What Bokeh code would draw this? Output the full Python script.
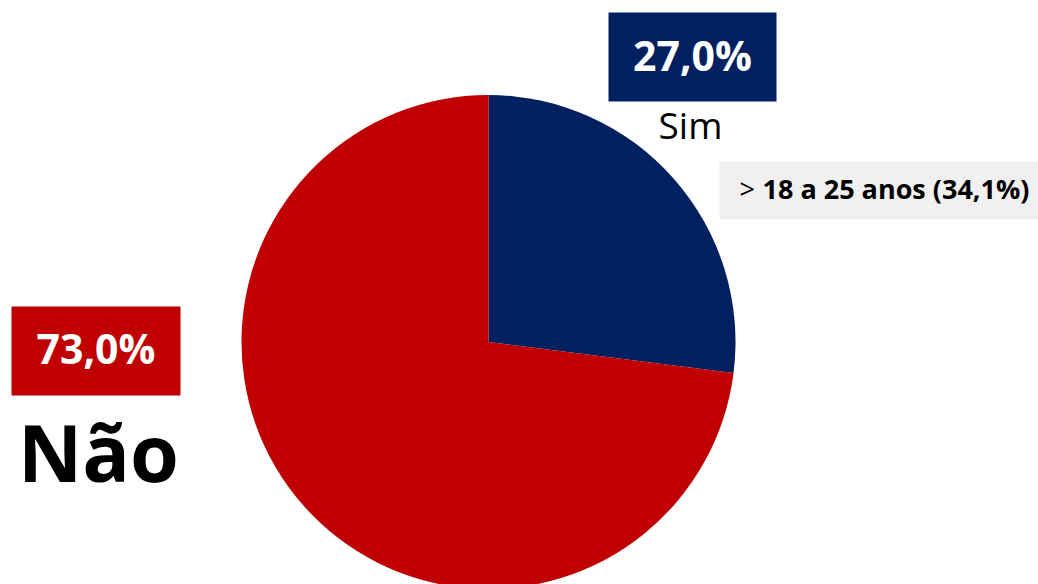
import numpy as np
from bokeh.plotting import figure
from bokeh.models import Range1d, Label
from bokeh.embed import file_html
from bokeh.resources import INLINE

# ---- data ----
categories = ["Sim", "Não"]
values = [27.0, 73.0]
pct_labels = ["27,0%", "73,0%"]
colors = ["#002060", "#C00000"]
note_prefix = ">"
note_text = "18 a 25 anos (34,1%)"

W, H = 1038, 584
FONT = "Open Sans"

p = figure(width=W, height=H, output_backend="svg", toolbar_location=None,
           x_range=Range1d(0, W), y_range=Range1d(0, H),
           min_border=0)
p.axis.visible = False
p.grid.visible = False
p.outline_line_color = None
p.background_fill_color = "white"
p.border_fill_color = "white"


def Y(sy):
    # screen y (pixels from top) -> data y
    return H - sy


# ---- pie ----
vals = np.array(values, dtype=float)
frac = vals / vals.sum()
cum = np.concatenate([[0.0], np.cumsum(frac)])
ends = np.pi / 2 - 2 * np.pi * cum[:-1]
starts = np.pi / 2 - 2 * np.pi * cum[1:]
cx, cy, r = 488, Y(341.5), 247
p.wedge(x=cx, y=cy, radius=r, start_angle=starts, end_angle=ends,
        fill_color=colors, line_color=None)

# ---- label boxes ----
p.quad(left=[608, 11], right=[776, 180], top=[Y(12), Y(306)], bottom=[Y(101), Y(395)],
       fill_color=colors, line_color=None)
p.quad(left=[719], right=[1040], top=[Y(161)], bottom=[Y(219)],
       fill_color="#F0F0F0", line_color=None)

# percentage labels
p.add_layout(Label(x=692, y=Y(54), text=pct_labels[0], text_color="white",
                   text_font=FONT, text_font_style="bold", text_font_size="41px",
                   text_align="center", text_baseline="alphabetic"))
p.add_layout(Label(x=95.5, y=Y(347), text=pct_labels[1], text_color="white",
                   text_font=FONT, text_font_style="bold", text_font_size="41px",
                   text_align="center", text_baseline="alphabetic"))

# category labels
p.add_layout(Label(x=690, y=Y(124), text=categories[0], text_color="black",
                   text_font=FONT, text_font_size="37px",
                   text_align="center", text_baseline="alphabetic"))
p.add_layout(Label(x=98, y=Y(451), text=categories[1], text_color="black",
                   text_font=FONT, text_font_style="bold", text_font_size="79px",
                   text_align="center", text_baseline="alphabetic"))

# note
p.add_layout(Label(x=739, y=Y(188), text=note_prefix, text_color="black",
                   text_font=FONT, text_font_size="27px",
                   text_align="left", text_baseline="alphabetic"))
p.add_layout(Label(x=762, y=Y(188), text=note_text, text_color="black",
                   text_font=FONT, text_font_style="bold", text_font_size="27px",
                   text_align="left", text_baseline="alphabetic"))

open("out.html", "w").write(file_html(p, INLINE))
